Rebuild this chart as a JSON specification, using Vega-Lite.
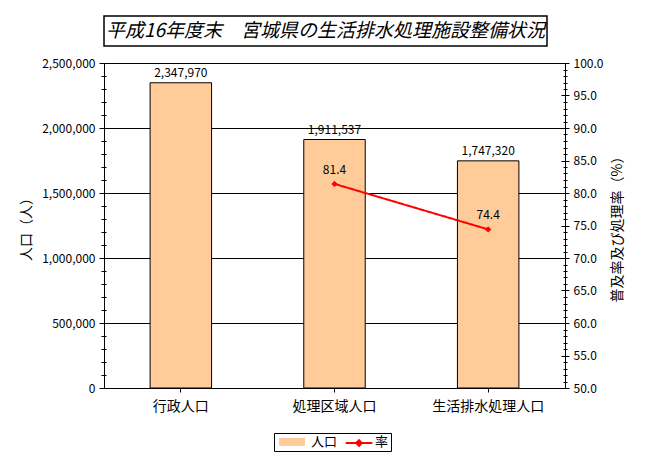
{
  "$schema": "https://vega.github.io/schema/vega-lite/v6.json",
  "padding": {"left": 19, "top": 15, "right": 5, "bottom": 5},
  "background": "white",
  "config": {
    "font": "Noto Sans CJK JP",
    "view": {"stroke": null},
    "axis": {
      "labelColor": "black", "titleColor": "black", "domainColor": "black", "tickColor": "black",
      "labelFontSize": 12, "titleFontSize": 14, "titleFontWeight": "normal",
      "labelFont": "Noto Sans CJK JP", "titleFont": "Noto Sans CJK JP"
    },
    "legend": {"labelFont": "Noto Sans CJK JP", "labelFontSize": 13, "labelColor": "black", "title": null}
  },
  "spacing": 17,
  "bounds": "flush",
  "resolve": {"legend": {"color": "independent", "strokeDash": "independent"}},
  "vconcat": [
    {
      "width": 443,
      "height": 30,
      "view": {"stroke": "black", "strokeWidth": 1.5, "fill": "white"},
      "data": {"values": [{"title": "平成16年度末　宮城県の生活排水処理施設整備状況"}]},
      "mark": {"type": "text", "fontSize": 19, "fontStyle": "italic", "font": "Noto Sans CJK JP", "color": "black", "baseline": "middle", "align": "center"},
      "encoding": {"text": {"field": "title"}}
    },
    {
      "width": 461,
      "height": 325,
      "data": {"values": [
        {"cat": "行政人口", "pop": 2347970, "rate": null},
        {"cat": "処理区域人口", "pop": 1911537, "rate": 81.4},
        {"cat": "生活排水処理人口", "pop": 1747320, "rate": 74.4}
      ]},
      "encoding": {
        "x": {
          "field": "cat", "type": "nominal", "sort": null,
          "scale": {"paddingInner": 0.6, "paddingOuter": 0.3},
          "axis": {"title": null, "labelAngle": 0, "labelFontSize": 14, "tickSize": 4, "labelPadding": 7, "domainColor": "black"}
        }
      },
      "resolve": {"scale": {"y": "independent"}},
      "layer": [
        {
          "resolve": {"axis": {"y": "independent"}},
          "layer": [
            {
              "mark": {"type": "bar", "stroke": "black", "strokeWidth": 1},
              "encoding": {
                "y": {
                  "field": "pop", "type": "quantitative",
                  "scale": {"domain": [0, 2500000], "nice": false},
                  "axis": {
                    "orient": "left", "tickCount": 25, "labelOverlap": false,
                    "labelExpr": "datum.value % 500000 === 0 ? format(datum.value, ',') : ''",
                    "grid": true, "gridColor": "black",
                    "gridOpacity": {"condition": {"test": "datum.value % 500000 === 0", "value": 1}, "value": 0},
                    "tickSize": {"condition": {"test": "datum.value % 500000 === 0", "value": 5}, "value": 3},
                    "labelPadding": 4,
                    "title": "人口（人）", "titlePadding": 8
                  }
                },
                "color": {
                  "datum": "人口",
                  "scale": {"domain": ["人口", "率"], "range": ["#FFCC99", "transparent"]},
                  "legend": {
                    "orient": "none", "legendX": 170, "legendY": 370,
                    "direction": "horizontal", "title": null,
                    "strokeColor": "black", "padding": 2,
                    "symbolSize": 196, "symbolOffset": 9,
                    "symbolType": "M-1.85,-0.57H1.85V0.57H-1.85Z",
                    "symbolStrokeColor": "transparent", "symbolStrokeWidth": 0, "symbolOpacity": 1,
                    "labelOffset": 12, "columnPadding": 2
                  }
                }
              }
            },
            {
              "mark": {"type": "text", "baseline": "bottom", "dy": -3, "fontSize": 12, "color": "black"},
              "encoding": {
                "y": {
                  "field": "pop", "type": "quantitative",
                  "axis": {
                    "orient": "left", "tickCount": 25, "labels": false, "domain": false, "grid": false, "title": null,
                    "tickSize": {"condition": {"test": "datum.value % 500000 === 0", "value": -4}, "value": -2}
                  }
                },
                "text": {"field": "pop", "type": "quantitative", "format": ","}
              }
            }
          ]
        },
        {
          "resolve": {"axis": {"y": "independent"}},
          "layer": [
            {
              "mark": {"type": "line", "strokeWidth": 2, "color": "#FF0000"},
              "encoding": {
                "y": {
                  "field": "rate", "type": "quantitative",
                  "scale": {"domain": [50, 100], "nice": false, "zero": false},
                  "axis": {
                    "orient": "right", "tickCount": 50, "labelOverlap": false,
                    "labelExpr": "datum.value % 5 === 0 ? format(datum.value, '.1f') : ''",
                    "grid": false,
                    "tickSize": {"condition": {"test": "datum.value % 5 === 0", "value": 4}, "value": 2},
                    "labelPadding": 4,
                    "title": "普及率及び処理率（%）", "titleAngle": 270, "titleBaseline": "top", "titlePadding": 8
                  }
                },
                "strokeDash": {
                  "datum": "率",
                  "scale": {"domain": ["率"], "range": [[1, 0]]},
                  "legend": {
                    "orient": "none", "legendX": 236, "legendY": 370,
                    "direction": "horizontal", "title": null,
                    "padding": 2,
                    "symbolSize": 196, "symbolOffset": 9,
                    "symbolType": "M-1.9,0H1.9M-0.4,0L0,-0.4L0.4,0L0,0.4Z",
                    "symbolStrokeColor": "#FF0000", "symbolFillColor": "#FF0000", "symbolStrokeWidth": 2, "symbolOpacity": 1,
                    "labelOffset": 10, "labelExpr": "''"
                  }
                }
              }
            },
            {
              "mark": {"type": "point", "shape": "diamond", "filled": true, "size": 40, "color": "#FF0000", "opacity": 1},
              "encoding": {
                "y": {"field": "rate", "type": "quantitative", "axis": null}
              }
            },
            {
              "mark": {"type": "text", "baseline": "bottom", "dy": -7, "fontSize": 12, "color": "black"},
              "encoding": {
                "y": {
                  "field": "rate", "type": "quantitative",
                  "axis": {
                    "orient": "right", "tickCount": 50, "labels": false, "domain": false, "grid": false, "title": null,
                    "tickSize": {"condition": {"test": "datum.value % 5 === 0", "value": -4}, "value": -2}
                  }
                },
                "text": {"field": "rate", "type": "quantitative", "format": ".1f"}
              }
            }
          ]
        }
      ]
    }
  ]
}
